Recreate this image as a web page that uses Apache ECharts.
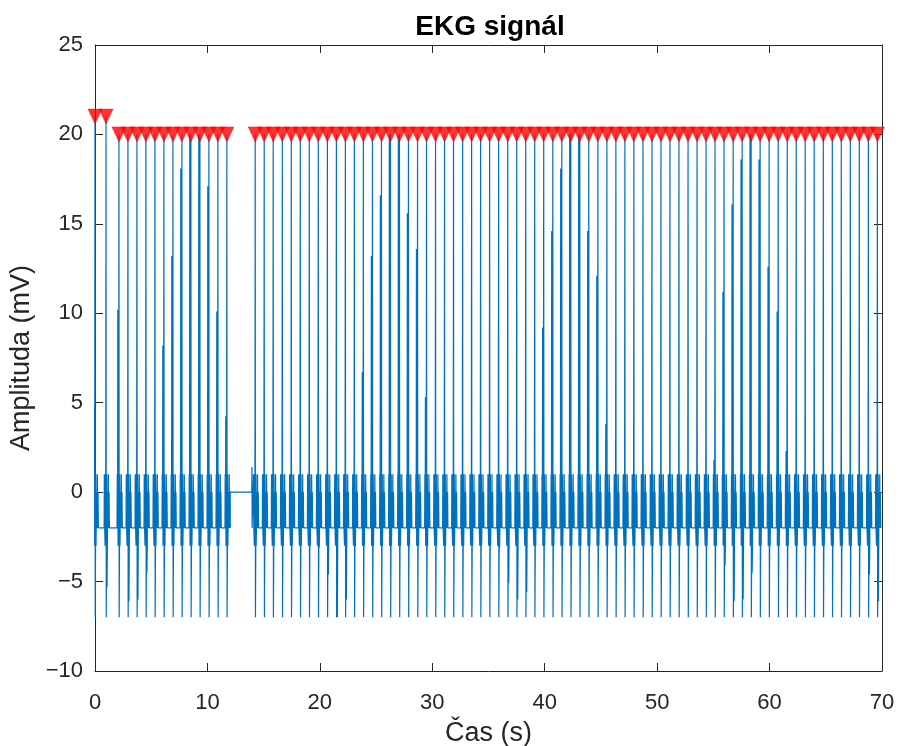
<!DOCTYPE html>
<html>
<head>
<meta charset="utf-8">
<script src="https://cdn.jsdelivr.net/npm/echarts@6/dist/echarts.min.js"></script>
<style>
html,body{margin:0;padding:0;background:#fff;}
#chart{width:899px;height:746px;}
</style>
</head>
<body>
<div id="chart"></div>
<script>
// ---- data ----
const beatTimes = [
  0, 0.98, 2.13, 2.93, 3.73, 4.53, 5.33, 6.13, 6.93, 7.73, 8.53, 9.33, 10.13, 10.93, 11.73,
  14.25, 15.05, 15.85, 16.66, 17.46, 18.26, 19.06, 19.86, 20.67, 21.47,
  22.27, 23.07, 23.87, 24.68, 25.48, 26.28, 27.08, 27.88, 28.69, 29.49,
  30.29, 31.09, 31.89, 32.70, 33.50, 34.30, 35.10, 35.90, 36.71, 37.51,
  38.31, 39.11, 39.91, 40.72, 41.52, 42.32, 43.12, 43.92, 44.73, 45.53,
  46.33, 47.13, 47.93, 48.74, 49.54, 50.34, 51.14, 51.94, 52.75, 53.55,
  54.35, 55.15, 55.95, 56.76, 57.56, 58.36, 59.16, 59.96, 60.77, 61.57,
  62.37, 63.17, 63.97, 64.78, 65.58, 66.38, 67.18, 67.98, 68.79, 69.59
];
const peakValues = [
  21, 21, 20, 20, 20, 20, 20, 20, 20, 20, 20, 20, 20, 20, 20,
  20, 20, 20, 20, 20, 20, 20, 20, 20, 20,
  20, 20, 20, 20, 20, 20, 20, 20, 20, 20,
  20, 20, 20, 20, 20, 20, 20, 20, 20, 20,
  20, 20, 20, 20, 20, 20, 20, 20, 20, 20,
  20, 20, 20, 20, 20, 20, 20, 20, 20, 20,
  20, 20, 20, 20, 20, 20, 20, 20, 20, 20,
  20, 20, 20, 20, 20, 20, 20, 20, 20, 20
];
// secondary spike beside the R wave (null = none)
const upperSpikes = [
  4.9, null, 10.2, null, null, null, null, 8.2, 13.2, 18.1, 20, 20, 17.1, 10.1, 4.25,
  null, null, null, null, null, null, null, null, null, null,
  null, null, 6.7, 13.2, 16.6, 20, 20, 15.6, 13.6, 5.3,
  null, null, null, null, null, null, null, null, null, null,
  null, null, 9.2, 14.6, 18.1, 20, 20, 14.6, 12.1, 3.8,
  null, null, null, null, null, null, null, null, null, null,
  null, 1.8, 11.2, 16.1, 18.6, 20, 18.6, 12.6, 10.1, 2.3,
  null, null, null, null, null, null, null, null, null, null
];
// secondary dip after the S wave (null = none)
const lowerSpikes = [
  null, -5.3, null, -6.1, -6.0, -4.5, null, null, null, null, null, null, null, null, null,
  null, null, null, null, null, null, null, -3.1, -4.6, -7,
  -6.0, null, null, null, null, null, null, null, null, null,
  null, null, null, null, null, null, null, -3.1, -5.1, -6.0,
  -5.6, null, null, null, null, null, null, null, null, null,
  null, null, null, null, null, null, null, null, null, null,
  null, -2.4, -4.1, -6.1, -6.0, -4.5, null, null, null, null,
  null, null, null, null, null, null, null, null, -4.6, -6.1, -5.0
];
// one beat: [time offset from R (s), level (mV)]; 'R','U','L' = per-beat values above
const beatShape = [
  [-0.17, -2], [-0.15, 1], [-0.12, -2], [-0.10, 'U'], [-0.08, -3], [-0.06, 1],
  [-0.03, -3], [0, 'R'], [0.02, -7], [0.05, -3], [0.07, 1], [0.09, 'L'],
  [0.12, -3], [0.15, 0], [0.18, -2], [0.21, 1], [0.24, -2], [0.27, 0], [0.30, -2]
];
// flat section with no beats
const gapTimes = [12.03, 13.94];
const gapLevel = 0;
const gapExit = [[13.96, 1.4], [13.98, -2]];

const xTicks = { min: 0, max: 70, interval: 10 };
const yTicks = { min: -10, max: 25, interval: 5 };

// ---- build the signal from the arrays ----
const signal = [];
let gapDone = false;
beatTimes.forEach((t, i) => {
  if (!gapDone && t > gapTimes[1]) {
    signal.push([gapTimes[0], gapLevel]);
    signal.push([gapTimes[1], gapLevel]);
    gapExit.forEach(p => signal.push(p));
    gapDone = true;
  }
  beatShape.forEach(([dt, v]) => {
    let val = v;
    if (v === 'R') val = peakValues[i];
    else if (v === 'U') val = upperSpikes[i] == null ? -2 : upperSpikes[i];
    else if (v === 'L') val = lowerSpikes[i] == null ? -3 : lowerSpikes[i];
    signal.push([+(t + dt).toFixed(3), val]);
  });
});
const peaks = beatTimes.map((t, i) => [t, peakValues[i]]);

const FONT = "'Liberation Sans', Arial, sans-serif";
const AX = '#262626';
const minus = v => (v < 0 ? '\u2212' + Math.abs(v) : String(v));

const chart = echarts.init(document.getElementById('chart'), null, { renderer: 'canvas' });
chart.setOption({
  animation: false,
  backgroundColor: '#ffffff',
  textStyle: { fontFamily: FONT },
  title: {
    text: 'EKG signál',
    left: 485, top: 8, textAlign: 'center',
    textStyle: { fontFamily: FONT, fontSize: 28, fontWeight: 'bold', color: '#000' }
  },
  grid: { left: 95, right: 17, top: 45, bottom: 75, outerBoundsMode: 'none', containLabel: false },
  xAxis: [{
    type: 'value', min: xTicks.min, max: xTicks.max, interval: xTicks.interval,
    name: 'Čas (s)', nameLocation: 'middle', nameGap: 49,
    nameTextStyle: { fontFamily: FONT, fontSize: 27, color: AX },
    axisLine: { show: true, onZero: false, lineStyle: { color: AX, width: 1 } },
    axisTick: { show: true, inside: true, length: 8, lineStyle: { color: AX } },
    axisLabel: { fontFamily: FONT, fontSize: 22, color: AX, margin: 21 },
    splitLine: { show: false }
  }, {
    type: 'value', position: 'top', min: xTicks.min, max: xTicks.max, interval: xTicks.interval,
    axisLine: { show: true, onZero: false, lineStyle: { color: AX, width: 1 } },
    axisTick: { show: true, inside: true, length: 8, lineStyle: { color: AX } },
    axisLabel: { show: false }, splitLine: { show: false }
  }],
  yAxis: [{
    type: 'value', min: yTicks.min, max: yTicks.max, interval: yTicks.interval,
    name: 'Amplituda (mV)', nameLocation: 'middle', nameGap: 54,
    nameTextStyle: { fontFamily: FONT, fontSize: 27, color: AX },
    axisLine: { show: true, onZero: false, lineStyle: { color: AX, width: 1 } },
    axisTick: { show: true, inside: true, length: 8, lineStyle: { color: AX } },
    axisLabel: { fontFamily: FONT, fontSize: 22, color: AX, margin: 12, formatter: minus },
    splitLine: { show: false }
  }, {
    type: 'value', position: 'right', min: yTicks.min, max: yTicks.max, interval: yTicks.interval,
    axisLine: { show: true, onZero: false, lineStyle: { color: AX, width: 1 } },
    axisTick: { show: true, inside: true, length: 8, lineStyle: { color: AX } },
    axisLabel: { show: false }, splitLine: { show: false }
  }],
  series: [{
    type: 'line', name: 'EKG', data: signal,
    xAxisIndex: 0, yAxisIndex: 0,
    showSymbol: false, symbol: 'none', sampling: null, clip: true,
    lineStyle: { color: '#0072BD', width: 1.2 },
    itemStyle: { color: '#0072BD' },
    z: 2
  }, {
    type: 'scatter', name: 'R', data: peaks,
    xAxisIndex: 0, yAxisIndex: 0,
    symbol: 'triangle', symbolRotate: 180, symbolSize: [14, 15],
    itemStyle: { color: '#FF0000', borderColor: '#FF0000', borderWidth: 0.5 },
    z: 3
  }]
});
</script>
</body>
</html>
